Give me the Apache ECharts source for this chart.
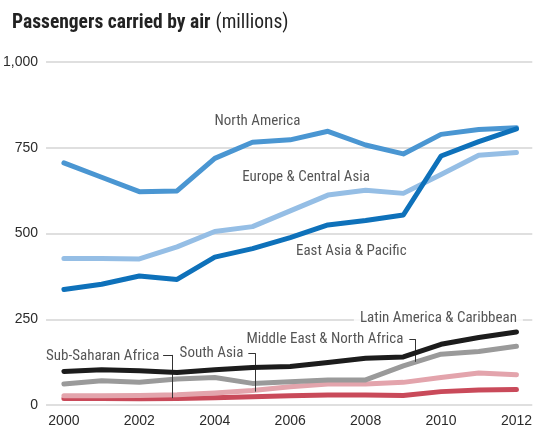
<!DOCTYPE html>
<html>
<head>
<meta charset="utf-8">
<script src="https://cdn.jsdelivr.net/npm/echarts@6/dist/echarts.min.js"></script>
<style>
  html, body { margin: 0; padding: 0; background: #fff; }
  #chart { width: 535px; height: 430px; }
</style>
</head>
<body>
<div id="chart"></div>
<script>
// ---- data ----
var years = [2000, 2001, 2002, 2003, 2004, 2005, 2006, 2007, 2008, 2009, 2010, 2011, 2012];
var xTickLabels = [2000, 2002, 2004, 2006, 2008, 2010, 2012];
var yTickLabels = [0, 250, 500, 750, 1000];
var subSaharanAfrica = [19, 19, 18, 19, 21, 24, 27, 29, 29, 28, 39, 44, 45];
var southAsia = [27, 27, 28, 30, 35, 42, 53, 61, 61, 66, 80, 93, 88];
var middleEastNorthAfrica = [61, 71, 66, 76, 80, 63, 68, 73, 73, 114, 148, 156, 171];
var latinAmericaCaribbean = [98, 103, 100, 95, 103, 109, 112, 124, 136, 140, 177, 197, 213];
var europeCentralAsia = [427, 427, 426, 461, 506, 520, 566, 612, 626, 617, 672, 728, 736];
var northAmerica = [706, 664, 622, 624, 719, 766, 773, 798, 758, 732, 789, 803, 808];
var eastAsiaPacific = [337, 352, 376, 366, 431, 456, 488, 525, 538, 554, 726, 768, 805];
var seriesNames = ['Sub-Saharan Africa', 'South Asia', 'Middle East & North Africa',
  'Latin America & Caribbean', 'Europe & Central Asia', 'North America', 'East Asia & Pacific'];

// ---- styles / annotation placement (data-space anchors) ----
var seriesValues = [subSaharanAfrica, southAsia, middleEastNorthAfrica, latinAmericaCaribbean,
  europeCentralAsia, northAmerica, eastAsiaPacific];
var seriesColors = ['#c94a5a', '#e3a4ac', '#9a9a9a', '#1c1c1c', '#95bee5', '#4a96d2', '#0e71ba'];

var narrow = "'Liberation Sans Narrow', 'Roboto Condensed', Roboto, sans-serif";
var textColor = '#2b2b2b';

var annotations = [
  { text: 'North America', at: [2005.13, 827], align: 'center' },
  { text: 'Europe & Central Asia', at: [2006.42, 665], align: 'center' },
  { text: 'East Asia & Pacific', at: [2007.62, 449], align: 'center' },
  { text: 'Latin America & Caribbean', at: [2009.93, 252], align: 'center', bg: true },
  { text: 'Middle East & North Africa', at: [2009.0, 191], align: 'right' },
  { text: 'South Asia', at: [2004.76, 151], align: 'right' },
  { text: 'Sub-Saharan Africa', at: [2002.53, 143], align: 'right' }
];
var hooks = [
  [[2002.63, 146], [2002.87, 146]], [[2002.87, 146], [2002.87, 20]],
  [[2004.89, 151], [2005.08, 151]], [[2005.08, 151], [2005.08, 39]],
  [[2009.16, 192], [2009.32, 192]], [[2009.32, 192], [2009.32, 126]]
];

var chart = echarts.init(document.getElementById('chart'), null, { renderer: 'canvas' });

var series = seriesNames.map(function (name, i) {
  return {
    name: name,
    type: 'line',
    data: years.map(function (y, k) { return [y, seriesValues[i][k]]; }),
    symbol: 'none',
    smooth: false,
    silent: true,
    z: 2 + i,
    lineStyle: { color: seriesColors[i], width: 5, cap: 'round', join: 'round' },
    itemStyle: { color: seriesColors[i] }
  };
});

series.push({
  type: 'scatter',
  silent: true,
  z: 20,
  symbolSize: 0,
  data: annotations.map(function (a) {
    return {
      value: a.at,
      label: {
        show: true,
        position: 'inside',
        formatter: a.text,
        align: a.align,
        verticalAlign: 'middle',
        fontFamily: narrow,
        fontSize: 15,
        color: textColor,
        backgroundColor: a.bg ? '#fff' : 'transparent',
        padding: a.bg ? [2, 6] : 0
      }
    };
  })
});

series.push({
  type: 'line',
  data: [],
  silent: true,
  z: 19,
  markLine: {
    silent: true,
    symbol: ['none', 'none'],
    label: { show: false },
    lineStyle: { color: '#333', width: 1, type: 'solid' },
    data: hooks.map(function (h) {
      return [{ coord: h[0] }, { coord: h[1] }];
    })
  }
});

chart.setOption({
  animation: false,
  backgroundColor: '#fff',
  title: {
    left: 7,
    top: 8,
    text: '{b|Passengers carried by air} {n|(millions)}',
    textStyle: {
      rich: {
        b: { fontFamily: narrow, fontWeight: 'bold', fontSize: 19.5, color: '#222' },
        n: { fontFamily: narrow, fontWeight: 'normal', fontSize: 19.5, color: '#222' }
      }
    }
  },
  grid: { left: 45, right: 0, top: 62, bottom: 25 },
  xAxis: {
    type: 'value',
    min: 1999.526,
    max: 2012.42,
    axisLine: { show: false },
    axisTick: { show: false },
    splitLine: { show: false },
    axisLabel: {
      customValues: xTickLabels,
      formatter: function (v) { return String(Math.round(v)); },
      fontFamily: "'Liberation Sans', Arial, sans-serif",
      fontSize: 14,
      color: textColor,
      margin: 9
    }
  },
  yAxis: {
    type: 'value',
    min: 0,
    max: 1000,
    interval: 250,
    axisLine: { show: false },
    axisTick: { show: false },
    splitLine: { show: true, lineStyle: { color: '#d4d4d4', width: 1.5 } },
    axisLabel: {
      customValues: yTickLabels,
      formatter: function (v) { return v.toLocaleString('en-US'); },
      fontFamily: "'Liberation Sans', Arial, sans-serif",
      fontSize: 14,
      color: textColor,
      margin: 8
    }
  },
  series: series
});
</script>
</body>
</html>
